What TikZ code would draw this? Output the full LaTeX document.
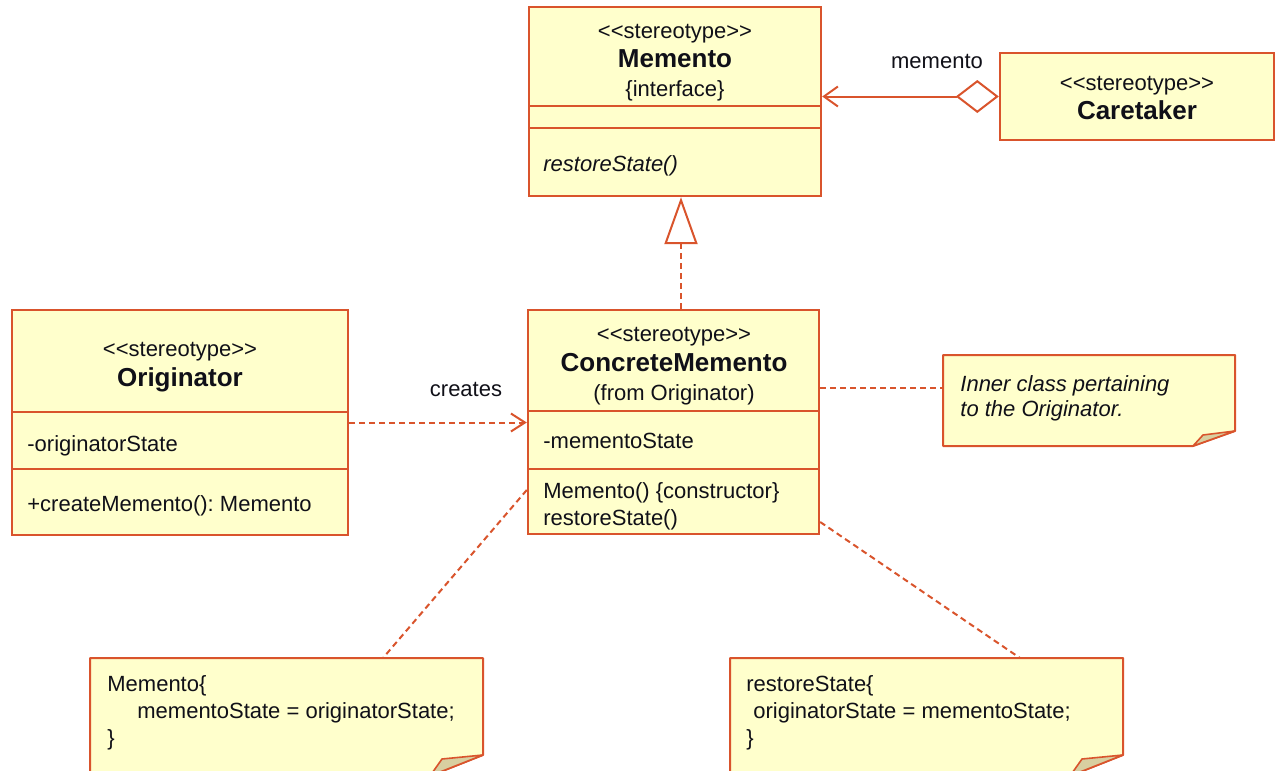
\documentclass[tikz,border=0pt]{standalone}
\usepackage{fontspec}
\setmainfont{Liberation Sans}
\usetikzlibrary{arrows.meta,fit}
\definecolor{umlline}{HTML}{D9542C}
\definecolor{umlfill}{HTML}{FFFFCC}
\definecolor{umltext}{HTML}{101018}
\definecolor{foldfill}{HTML}{D8CFA0}
\newcommand{\stereotag}{<{}<stereotype>{}>}

\begin{document}
\frenchspacing
\begin{tikzpicture}[x=0.5pt,y=-0.5pt,
  box/.style={draw=umlline, fill=umlfill, line width=1.2pt, inner sep=0pt},
  txt/.style={font=\fontsize{11}{13}\selectfont, text=umltext, inner sep=0pt},
  stereo/.style={txt, anchor=mid, yshift=-1.5pt},
  title/.style={font=\fontsize{13}{15}\selectfont\bfseries, text=umltext, inner sep=0pt, anchor=mid, yshift=-2pt},
  member/.style={txt, anchor=mid west, yshift=-1.5pt},
  divider/.style={draw=umlline, line width=1.2pt},
  notebox/.style={draw=umlline, fill=umlfill, line width=1pt, line join=round},
  fold/.style={draw=umlline, fill=foldfill, line width=0.8pt, line join=round},
  link/.style={draw=umlline, line width=1pt},
  dep/.style={link, dash pattern=on 3pt off 2pt}
]
\useasboundingbox (0,0) rectangle (1276,771);
\clip (0,0) rectangle (1276,771);

% ---------- Memento interface ----------
\node[box, fit={(529,7)(821,196)}] (memento) {};
\draw[divider] (529,106) -- (821,106);
\draw[divider] (529,128) -- (821,128);
\node[stereo] (memSt) at (675,30) {\stereotag};
\node[title] (memTi) at (675,58) {Memento};
\node[stereo] (memIf) at (675,88) {\{interface\}};
\node[member] (memOp) at (543,163) {\itshape restoreState()};

% ---------- Caretaker ----------
\node[box, fit={(1000,53)(1274,140)}] (caretaker) {};
\node[stereo] (carSt) at (1137,82) {\stereotag};
\node[title] (carTi) at (1137,110) {Caretaker};

% ---------- Originator ----------
\node[box, fit={(12,310)(348,535)}] (originator) {};
\draw[divider] (12,412) -- (348,412);
\draw[divider] (12,469) -- (348,469);
\node[stereo] (oriSt) at (180,348) {\stereotag};
\node[title] (oriTi) at (180,377) {Originator};
\node[member] (oriAt) at (27,443) {-originatorState};
\node[member] (oriOp) at (27,503) {+createMemento(): Memento};

% ---------- ConcreteMemento ----------
\node[box, fit={(528,310)(819,534)}] (concrete) {};
\draw[divider] (528,411) -- (819,411);
\draw[divider] (528,469) -- (819,469);
\node[stereo] (conSt) at (674,333) {\stereotag};
\node[title] (conTi) at (674,362) {ConcreteMemento};
\node[stereo] (conFr) at (674,392) {(from Originator)};
\node[member] (conAt) at (543,440) {-mementoState};
\node[member] (conOp1) at (543,490) {Memento() \{constructor\}};
\node[member] (conOp2) at (543,517) {restoreState()};

% ---------- Notes ----------
\path[notebox] (943,355) -- (1235,355) -- (1235,431) -- (1193,446) -- (943,446) -- cycle;
\path[fold] (1193,446) -- (1203,435) -- (1235,431) -- cycle;
\node[fit={(943,355)(1235,446)}, inner sep=0pt] (note1) {};
\node[member] (n1l1) at (960,383) {\itshape Inner class pertaining};
\node[member] (n1l2) at (960,408) {\itshape to the Originator.};

\path[notebox] (90,658) -- (483,658) -- (483,755) -- (430,776) -- (90,776) -- cycle;
\path[fold] (430,776) -- (442,759) -- (483,755) -- cycle;
\node[fit={(90,658)(483,776)}, inner sep=0pt] (note2) {};
\node[member] (n2l1) at (107,683) {Memento\{};
\node[member] (n2l2) at (137,710) {mementoState = originatorState;};
\node[member] (n2l3) at (107,737) {\}};

\path[notebox] (730,658) -- (1123,658) -- (1123,755) -- (1070,776) -- (730,776) -- cycle;
\path[fold] (1070,776) -- (1082,759) -- (1123,755) -- cycle;
\node[fit={(730,658)(1123,776)}, inner sep=0pt] (note3) {};
\node[member] (n3l1) at (746,683) {restoreState\{};
\node[member] (n3l2) at (753,710) {originatorState = mementoState;};
\node[member] (n3l3) at (746,737) {\}};

% ---------- Connectors ----------
% aggregation Caretaker -> Memento
\draw[link, {Diamond[open, length=21.5pt, width=16.5pt, fill=white]}-{Straight Barb[length=7pt, width=10pt]}]
  (caretaker.west) -- (caretaker.west -| memento.east);
\node[txt, anchor=mid, yshift=-1.5pt] (aggLbl) at (937,60) {memento};

% realization ConcreteMemento -> Memento
\coordinate (genTop) at ([xshift=3pt]memento.south);
\draw[dep, -{Triangle[open, length=23.5pt, width=16.5pt, fill=white]}]
  (genTop |- concrete.north) -- (genTop);

% dependency Originator -> ConcreteMemento
\draw[dep, -{Straight Barb[length=7pt, width=9pt]}]
  (originator.east) -- (originator.east -| concrete.west);
\node[txt, anchor=mid, yshift=-1.5pt] (creLbl) at (466,388) {creates};

% note attachments
\coordinate (n1a) at (note1.west |- 0,388);
\draw[dep] (n1a -| concrete.east) -- (n1a);
\coordinate (c2) at (concrete.west |- 0,490);
\coordinate (n2a) at (383,658);
\draw[dep] (c2) -- (n2a);
\coordinate (c3) at (concrete.east |- 0,522);
\coordinate (n3a) at (1020,658);
\draw[dep] (c3) -- (n3a);
\end{tikzpicture}
\end{document}
